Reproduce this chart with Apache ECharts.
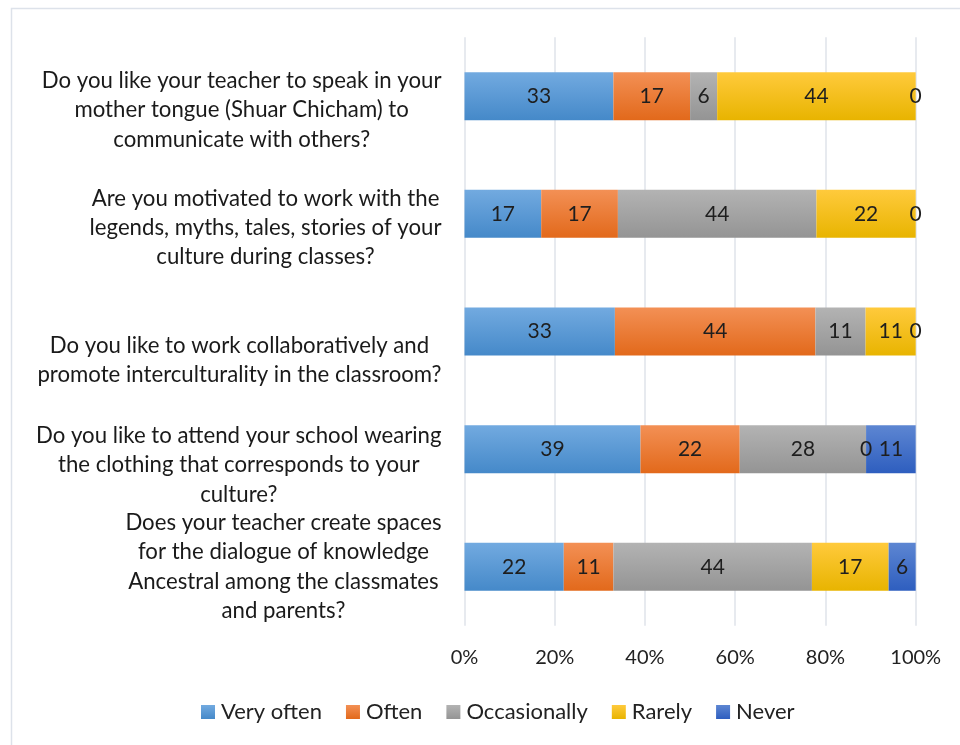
<!DOCTYPE html>
<html>
<head>
<meta charset="utf-8">
<script src="https://cdn.jsdelivr.net/npm/echarts@6/dist/echarts.min.js"></script>
<style>html,body{margin:0;padding:0;background:#fff;}#c{width:960px;height:745px;}</style>
</head>
<body>
<div id="c"></div>
<script>
// ---- data ----
const categories = [
  "Do you like your teacher to speak in your\nmother tongue (Shuar Chicham) to\ncommunicate with others?",
  "Are you motivated to work with the\nlegends, myths, tales, stories of your\nculture during classes?",
  "Do you like to work collaboratively and\npromote interculturality in the classroom?",
  "Do you like to attend your school wearing\nthe clothing that corresponds to your\nculture?",
  "Does your teacher create spaces\nfor the dialogue of knowledge\nAncestral among the classmates\nand parents?"
];
const seriesNames = ["Very often", "Often", "Occasionally", "Rarely", "Never"];
const veryOften   = [33, 17, 33, 39, 22];
const often       = [17, 17, 44, 22, 11];
const occasionally= [6, 44, 11, 28, 44];
const rarely      = [44, 22, 11, 0, 17];
const never       = [0, 0, 0, 11, 6];
const xTicks = [0, 20, 40, 60, 80, 100];

// ---- styling ----
const FONT = 'Lato';
const gradients = [
  ['#72aae0', '#4589c9'],
  ['#f39055', '#e2691b'],
  ['#b3b3b3', '#949494'],
  ['#ffca3c', '#e8b400'],
  ['#5d86d2', '#2e5ebf']
];
const labelShift = [28, 28, 57, 32, 0]; // vertical offset (padding) of category labels

const allSeries = [veryOften, often, occasionally, rarely, never];
const rowSums = categories.map((_, i) => allSeries.reduce((s, arr) => s + arr[i], 0));

function grad(c) {
  return new echarts.graphic.LinearGradient(0, 0, 0, 1, [
    { offset: 0, color: c[0] }, { offset: 1, color: c[1] }
  ]);
}

const chart = echarts.init(document.getElementById('c'), null, { renderer: 'canvas' });

const option = {
  backgroundColor: '#fff',
  animation: false,
  textStyle: { fontFamily: FONT },
  graphic: [{
    type: 'rect', silent: true, z: -10,
    shape: { x: 11.5, y: 8.5, width: 1000, height: 800 },
    style: { fill: 'none', stroke: '#dde2ea', lineWidth: 1.5 }
  }],
  grid: { left: 464.5, right: 44.3, top: 37.3, bottom: 119.3, containLabel: false },
  legend: {
    top: 696, left: 196,
    itemWidth: 14, itemHeight: 14, itemGap: 24,
    icon: 'rect',
    textStyle: { fontFamily: FONT, fontSize: 22, color: '#222', padding: [0, 0, 0, 1] },
    data: seriesNames
  },
  xAxis: {
    type: 'value', min: 0, max: 100, interval: 20,
    axisLine: { show: false }, axisTick: { show: false },
    splitLine: { show: true, lineStyle: { color: '#dfe3ea', width: 1.5 } },
    axisLabel: {
      margin: 22, fontSize: 20, fontFamily: FONT, color: '#222',
      formatter: v => xTicks.includes(v) ? v + '%' : ''
    }
  },
  yAxis: {
    type: 'category', inverse: true,
    data: categories.map((c, i) => ({ value: c, textStyle: { padding: [labelShift[i], 0, 0, 0] } })),
    axisLine: { show: false }, axisTick: { show: false },
    axisLabel: {
      margin: 23, align: 'right',
      formatter: v => v.split('\n').map(l => '{c|' + l + '}').join('\n'),
      rich: { c: { align: 'center', fontSize: 22.2, lineHeight: 29.3, fontFamily: FONT, color: '#1a1a1a' } }
    }
  },
  series: seriesNames.map((name, si) => ({
    name, type: 'bar', stack: 'total', barWidth: 48,
    itemStyle: { color: grad(gradients[si]) },
    label: {
      show: true, position: 'inside', offset: [0, 1.5], fontSize: 21, fontFamily: FONT, color: '#1e1e1e',
      formatter: p => String(allSeries[si][p.dataIndex])
    },
    labelLayout: { hideOverlap: false },
    data: allSeries[si].map((v, i) => v / rowSums[i] * 100)
  }))
};
chart.setOption(option);
</script>
</body>
</html>
